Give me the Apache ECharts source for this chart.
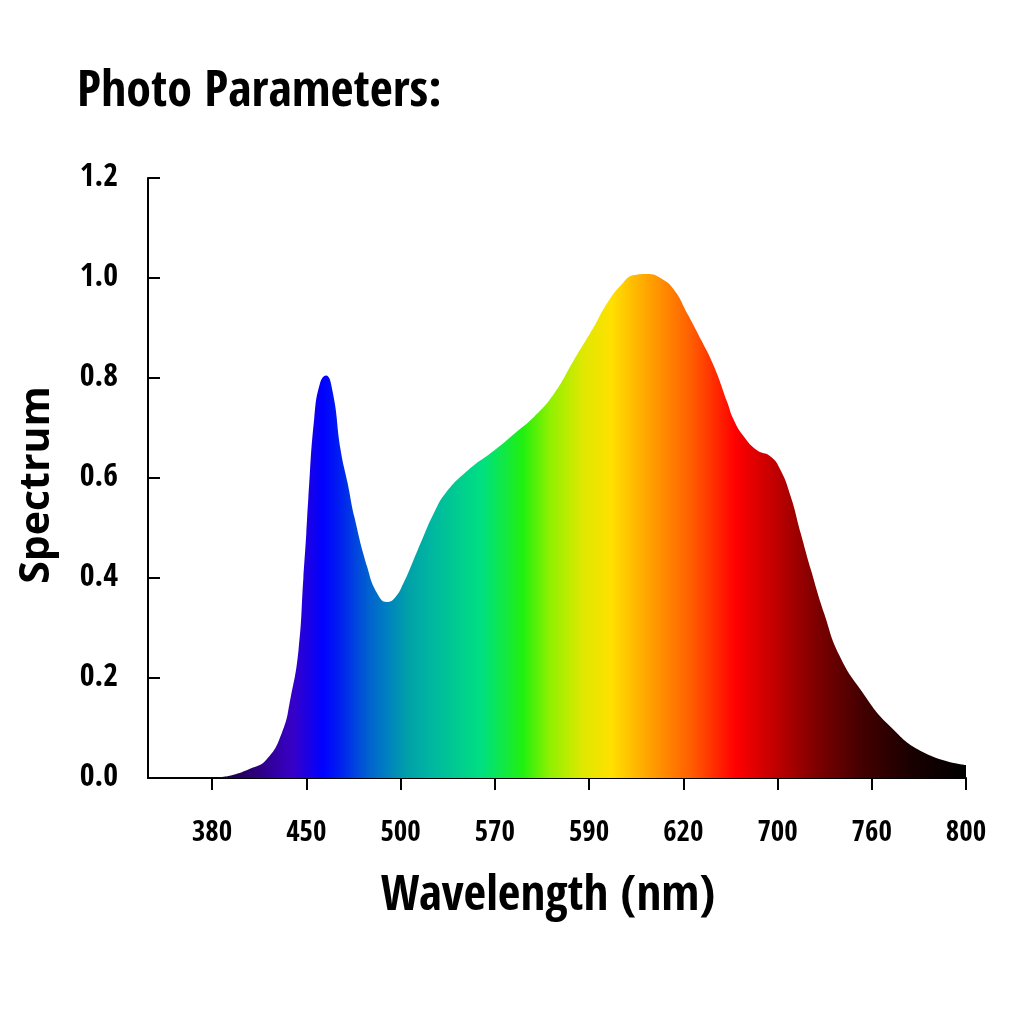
<!DOCTYPE html>
<html><head><meta charset="utf-8">
<script src="https://cdn.jsdelivr.net/npm/echarts@6/dist/echarts.min.js"></script>
<style>html,body{margin:0;padding:0;background:#fff}#c{width:1024px;height:1024px}</style>
</head><body><div id="c"></div>
<script>
const tickLabels = [380, 450, 500, 570, 590, 620, 700, 760, 800];
const wavelengths = [380, 387.3, 395.3, 407.7, 420.1, 431.8, 438.3, 444.2, 447.8, 450, 451.0, 454.2, 457.3, 460.4, 464.1, 468.2, 471.9, 475.5, 482.3, 487.5, 492.7, 496.9, 502.2, 509.5, 516.8, 524.8, 533.5, 550.3, 570, 574.2, 578.4, 582.6, 586.8, 591.6, 595.7, 600.2, 604.4, 608.5, 613.0, 617.1, 623.4, 635.2, 646.1, 657.1, 662.9, 671.4, 682.3, 694.1, 701.9, 708.4, 714.8, 721.3, 729.7, 739.4, 753.5, 767.2, 782.5, 800];
const spectrum = [0, 0.002, 0.006, 0.018, 0.036, 0.09, 0.16, 0.256, 0.40, 0.49, 0.556, 0.72, 0.79, 0.805, 0.77, 0.656, 0.59, 0.522, 0.422, 0.37, 0.352, 0.36, 0.39, 0.435, 0.482, 0.53, 0.57, 0.616, 0.656, 0.689, 0.723, 0.769, 0.836, 0.903, 0.949, 0.986, 1.006, 1.008, 0.999, 0.976, 0.929, 0.876, 0.823, 0.753, 0.716, 0.683, 0.656, 0.643, 0.616, 0.563, 0.489, 0.416, 0.329, 0.245, 0.174, 0.106, 0.05, 0.026];

// axis scale: tick labels are evenly spaced, so map wavelength piecewise onto tick index
function toAxis(w) {
  for (let i = 0; i < tickLabels.length - 1; i++) {
    if (w <= tickLabels[i + 1]) return i + (w - tickLabels[i]) / (tickLabels[i + 1] - tickLabels[i]);
  }
  return tickLabels.length - 1;
}
const tickIdx = tickLabels.map((_, i) => i);
const seriesData = wavelengths.map((w, i) => [toAxis(w), spectrum[i]]);

const COND = "'Open Sans Condensed', 'Roboto Condensed', sans-serif";
const WIDE = "'Open Sans', sans-serif";
const chart = echarts.init(document.getElementById('c'), null, {renderer: 'canvas'});
chart.setOption({
  backgroundColor: '#fff',
  animation: false,
  title: {
    text: 'Photo Parameters:', left: 72, top: 63,
    textStyle: {fontFamily: COND, fontSize: 50, fontWeight: 'bold', color: '#000'}
  },
  grid: {left: 148, right: 58, top: 178, bottom: 246},
  xAxis: {
    type: 'value', min: -0.68, max: tickLabels.length - 1,
    name: 'Wavelength (nm)', nameLocation: 'middle', nameGap: 95,
    nameTextStyle: {fontFamily: COND, fontSize: 49, fontWeight: 'bold', color: '#000', padding: [0, 18, 0, 0]},
    axisLine: {show: true, onZero: false, lineStyle: {color: '#000', width: 2}},
    axisTick: {show: true, customValues: tickIdx, length: 12, lineStyle: {color: '#000', width: 2}},
    axisLabel: {customValues: tickIdx, margin: 41, fontFamily: COND, fontSize: 29, fontWeight: 'bold', color: '#000',
      formatter: v => String(tickLabels[Math.round(v)])},
    splitLine: {show: false}
  },
  yAxis: {
    type: 'value', min: 0, max: 1.2, interval: 0.2,
    name: 'Spectrum', nameLocation: 'middle', nameGap: 90,
    nameTextStyle: {fontFamily: WIDE, fontSize: 41, fontWeight: 'bold', color: '#000', padding: [0, 14, 0, 0]},
    axisLine: {show: true, onZero: false, lineStyle: {color: '#000', width: 2}},
    axisTick: {show: true, inside: true, length: 12, lineStyle: {color: '#000', width: 2}},
    axisLabel: {margin: 30, fontFamily: COND, fontSize: 32, fontWeight: 'bold', color: '#000',
      formatter: v => v.toFixed(1)},
    splitLine: {show: false}
  },
  series: [{
    type: 'line', data: seriesData, smooth: 0.5,
    showSymbol: false, lineStyle: {width: 0},
    areaStyle: {
      opacity: 1,
      color: new echarts.graphic.LinearGradient(0, 0, 1, 0, [
        {offset: 0, color: '#14002a'},
        {offset: 0.05, color: '#2a0070'},
        {offset: 0.107, color: '#3800c8'},
        {offset: 0.147, color: '#0000ff'},
        {offset: 0.17, color: '#0020f0'},
        {offset: 0.206, color: '#0060d0'},
        {offset: 0.232, color: '#0080c0'},
        {offset: 0.259, color: '#00a0a8'},
        {offset: 0.293, color: '#00b8a0'},
        {offset: 0.359, color: '#00e080'},
        {offset: 0.412, color: '#20f010'},
        {offset: 0.448, color: '#90f000'},
        {offset: 0.492, color: '#e0e800'},
        {offset: 0.53, color: '#ffe000'},
        {offset: 0.581, color: '#ffa000'},
        {offset: 0.634, color: '#ff6000'},
        {offset: 0.694, color: '#ff0000'},
        {offset: 0.747, color: '#c00000'},
        {offset: 0.8, color: '#800000'},
        {offset: 0.86, color: '#450000'},
        {offset: 0.926, color: '#1a0000'},
        {offset: 1, color: '#000000'}
      ])
    }
  }]
});
</script></body></html>
